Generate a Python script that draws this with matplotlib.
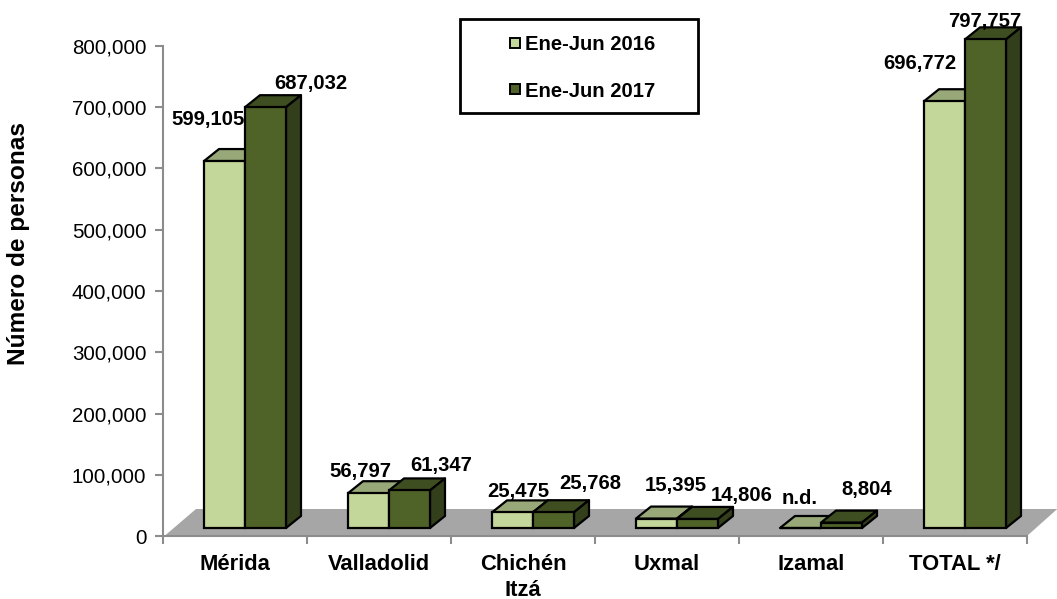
import matplotlib
matplotlib.use("Agg")
import matplotlib.pyplot as plt
from matplotlib.patches import Polygon, Rectangle

W, H = 1057, 599

categories = ["Mérida", "Valladolid", "Chichén\nItzá", "Uxmal", "Izamal", "TOTAL */"]
values_2016 = [599105, 56797, 25475, 15395, 0, 696772]
values_2017 = [687032, 61347, 25768, 14806, 8804, 797757]
labels_2016 = ["599,105", "56,797", "25,475", "15,395", "n.d.", "696,772"]
labels_2017 = ["687,032", "61,347", "25,768", "14,806", "8,804", "797,757"]
series_names = ["Ene-Jun 2016", "Ene-Jun 2017"]
y_ticks = [0, 100000, 200000, 300000, 400000, 500000, 600000, 700000, 800000]

# label centres in image pixels, they were placed by hand in the original
pos_2016 = [(208, 120), (360, 472), (518, 491), (676, 486), (800, 499), (920, 64)]
pos_2017 = [(311, 84), (441, 465), (590, 484), (742, 495), (867, 489), (985, 21)]

LIGHT = ("#C4D79B", "#98A878", "#7F8F5F")
DARK = ("#4F6228", "#3F4E20", "#333F1A")

plt.rcParams["font.family"] = ["Liberation Sans", "DejaVu Sans"]

fig = plt.figure(figsize=(W / 100, H / 100), dpi=100)
ax_left, ax_right, ax_top, ax_bottom = 163, 1027, 46, 536
ax = fig.add_axes([ax_left / W, 1 - ax_bottom / H, (ax_right - ax_left) / W, (ax_bottom - ax_top) / H])
ax.set_xlim(0, 6)
ax.set_ylim(0, 800000)

# pixel sizes expressed in data units
px_x = 6 / (ax_right - ax_left)
px_y = 800000 / (ax_bottom - ax_top)
base = 8 * px_y
depth_x = 15 * px_x
depth_y = 12 * px_y
bar_w = 41 * px_x
first = 41 * px_x

# floor
ax.add_patch(Polygon([(0.01, 0), (33 * px_x, 27 * px_y), (6.21, 27 * px_y), (6, 0)],
                     closed=True, fc="#A6A6A6", ec="none", clip_on=False, zorder=1))


def draw_bar(x, v, colors, z):
    top = base + v
    lw = 1.6
    ax.bar(x, v, width=bar_w, bottom=base, align="edge", color=colors[0],
           edgecolor="black", linewidth=lw, zorder=z + 0.2, clip_on=False)
    ax.add_patch(Polygon([(x, top), (x + depth_x, top + depth_y),
                          (x + bar_w + depth_x, top + depth_y), (x + bar_w, top)],
                         closed=True, fc=colors[1], ec="black", lw=lw, joinstyle="round",
                         clip_on=False, zorder=z))
    ax.add_patch(Polygon([(x + bar_w, base), (x + bar_w + depth_x, base + depth_y),
                          (x + bar_w + depth_x, top + depth_y), (x + bar_w, top)],
                         closed=True, fc=colors[2], ec="black", lw=lw, joinstyle="round",
                         clip_on=False, zorder=z))


for i in range(len(categories)):
    draw_bar(i + first, values_2016[i], LIGHT, 3)
    draw_bar(i + first + bar_w, values_2017[i], DARK, 4)

for c in ["top", "right"]:
    ax.spines[c].set_visible(False)
for c in ["left", "bottom"]:
    ax.spines[c].set_color("#8C8C8C")
    ax.spines[c].set_linewidth(1.5)

ax.set_yticks(y_ticks)
ax.set_yticklabels([f"{t:,}" for t in y_ticks], fontsize=14.8)
ax.set_xticks(range(7))
ax.set_xticklabels([""] * 7)
ax.tick_params(axis="both", color="#8C8C8C", width=1.5, length=6)
ax.tick_params(axis="y", pad=6)

for i, name in enumerate(categories):
    ax.annotate(name, xy=(i + 0.5, 0), xytext=(0, -13), textcoords="offset points", ha="center",
                va="top", fontsize=15.8, fontweight="bold", linespacing=1.3, annotation_clip=False)

fig.text(19 / W, 1 - 244 / H, "Número de personas", rotation=90, ha="center", va="center",
         fontsize=17.6, fontweight="bold")

for (x, y), txt in zip(pos_2016 + pos_2017, labels_2016 + labels_2017):
    fig.text(x / W, 1 - y / H, txt, ha="center", va="center", fontsize=14.6, fontweight="bold", zorder=10)

# legend box
fig.add_artist(Rectangle((460 / W, 1 - 113 / H), 238 / W, 94 / H, transform=fig.transFigure,
                         fc="white", ec="black", lw=2))
for y, name, colors in zip([43, 89], series_names, [LIGHT, DARK]):
    fig.add_artist(Rectangle((510 / W, 1 - (y + 5) / H), 10 / W, 10 / H, transform=fig.transFigure,
                             fc=colors[0], ec="black", lw=1.4))
    fig.text(525 / W, 1 - (y + 2) / H, name, ha="left", va="center", fontsize=14.6, fontweight="bold")

fig.savefig("out.png", dpi=100)
plt.close(fig)
